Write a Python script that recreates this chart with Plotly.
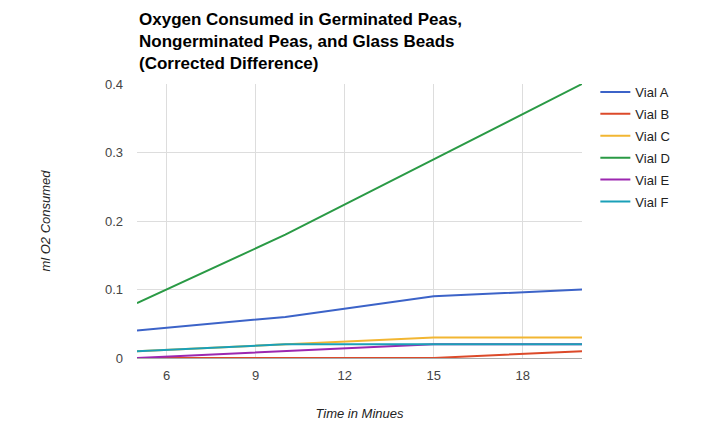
import plotly.graph_objects as go

time_min = [5, 10, 15, 20]
vial_a = [0.04, 0.06, 0.09, 0.10]
vial_b = [0.0, 0.0, 0.0, 0.01]
vial_c = [0.01, 0.02, 0.03, 0.03]
vial_d = [0.08, 0.18, 0.29, 0.40]
vial_e = [0.0, 0.01, 0.02, 0.02]
vial_f = [0.01, 0.02, 0.02, 0.02]

names = ["Vial A", "Vial B", "Vial C", "Vial D", "Vial E", "Vial F"]
series = [vial_a, vial_b, vial_c, vial_d, vial_e, vial_f]
colors = ["#3c63c8", "#dc4a2a", "#f2b632", "#2a9a45", "#9c27b0", "#1aa0b8"]

x_ticks = [6, 9, 12, 15, 18]
y_ticks = [0, 0.1, 0.2, 0.3, 0.4]
y_labels = ["0", "0.1", "0.2", "0.3", "0.4"]

title_text = "<b>Oxygen Consumed in Germinated Peas,<br>Nongerminated Peas, and Glass Beads<br>(Corrected Difference)</b>"

FONT = "Arial, Liberation Sans, sans-serif"

fig = go.Figure()
for n, s, c in zip(names, series, colors):
    fig.add_trace(go.Scatter(x=time_min, y=s, name=n, mode="lines",
                             legendgroup=n,
                             line=dict(color=c, width=2)))

fig.update_layout(
    width=720, height=443,
    margin=dict(l=137, r=138, t=84, b=85),
    paper_bgcolor="white", plot_bgcolor="white",
    font=dict(family=FONT, color="#444444", size=13),
    legend=dict(
        x=1.03, xanchor="left", y=1.0 + 7 / 274, yanchor="top",
        font=dict(family=FONT, size=13, color="#222222"),
        bgcolor="rgba(0,0,0,0)", tracegroupgap=2,
    ),
    showlegend=True,
    annotations=[dict(
        text=title_text, showarrow=False,
        xref="paper", x=0, xanchor="left",
        yref="paper", y=(358 - 8) / 274, yanchor="top",
        align="left",
        font=dict(family=FONT, size=17, color="#000000"),
    )],
)

fig.update_xaxes(
    range=[5, 20], tickvals=x_ticks, ticktext=[str(v) for v in x_ticks],
    showgrid=True, gridcolor="#dddddd", gridwidth=1,
    zeroline=False, showline=False, ticks="", ticklabelstandoff=8,
    tickfont=dict(family=FONT, size=13, color="#444444"),
    title=dict(text="<i>Time in Minues</i>", standoff=26,
               font=dict(family=FONT, size=13, color="#222222")),
)
fig.update_yaxes(
    range=[0, 0.4], tickvals=y_ticks, ticktext=y_labels,
    showgrid=True, gridcolor="#dddddd", gridwidth=1,
    zeroline=True, zerolinecolor="#aaaaaa", zerolinewidth=1,
    showline=False, ticks="", ticklabelstandoff=13,
    tickfont=dict(family=FONT, size=13, color="#444444"),
    title=dict(text="<i>ml O2 Consumed</i>", standoff=51,
               font=dict(family=FONT, size=13, color="#222222")),
)

fig.write_html("out.html")
